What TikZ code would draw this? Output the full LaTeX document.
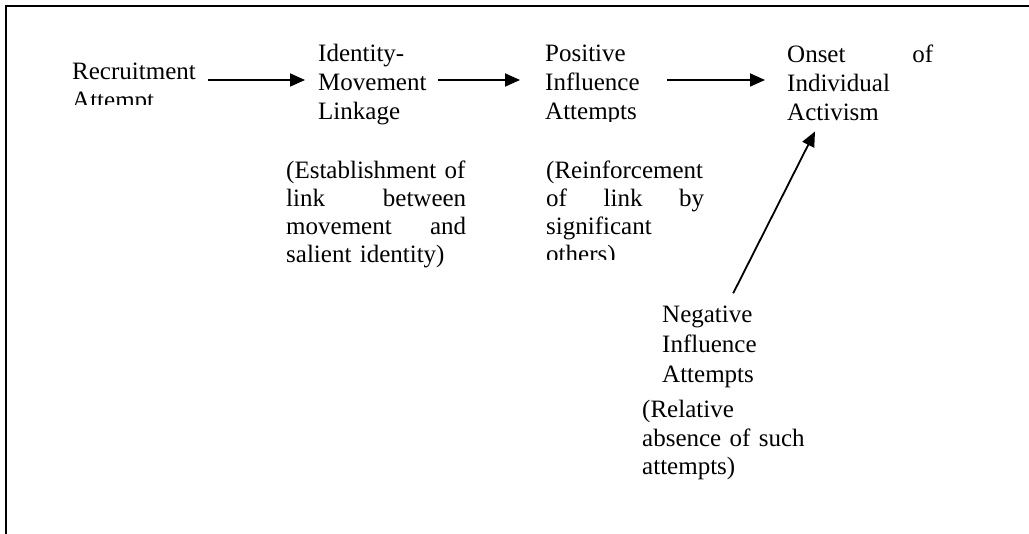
\documentclass[tikz,border=0pt]{standalone}
\usepackage{fontspec}
\setmainfont{Liberation Serif}
\usetikzlibrary{arrows.meta,calc}

\begin{document}
\begin{tikzpicture}[x=1pt,y=-1pt,
  lbl/.style={anchor=base west,inner sep=0pt,align=left,font=\fontsize{25}{29}\selectfont},
  flow/.style={line width=1.8pt,-{Triangle[length=15pt,width=13pt]}}]
  \useasboundingbox (0,0) rectangle (1029,534);
  \draw[line width=2.2pt] (6,534) -- (6,6) -- (1029,6);
  % top row (two boxes are cut off at the bottom)
  \begin{scope}
    \clip (60,40) rectangle (205,105);
    \node[lbl,text width=128pt] (rec) at (72,80) {Recruitment\\Attempt};
  \end{scope}
  \node[lbl,text width=120pt] (idm) at (318,62) {Identity-\\Movement\\Linkage};
  \begin{scope}
    \clip (535,40) rectangle (660,122);
    \node[lbl,text width=110pt] (pos) at (545,62) {Positive\\Influence\\Attempts};
  \end{scope}
  \node[lbl,text width=146pt] (ons) at (787,63) {Onset\hfill of\\Individual\\Activism};
  % notes under the boxes
  \node[lbl,text width=180pt,font=\fontsize{25}{28}\selectfont] (est) at (286,179)
    {(Establishment of\\link\hfill between\\movement\hfill and\\salient identity)};
  \begin{scope}
    \clip (536,150) rectangle (720,260);
    \node[lbl,text width=158pt,font=\fontsize{25}{28}\selectfont] (rei) at (546,179)
      {(Reinforcement\\of\hfill link\hfill by\\significant\\others)};
  \end{scope}
  \node[lbl,text width=142pt,font=\fontsize{25}{30}\selectfont] (neg) at (662,323)
    {Negative\\Influence\\Attempts};
  \node[lbl,text width=170pt,font=\fontsize{25}{28.5}\selectfont] (rel) at (642,418)
    {(Relative\\absence of such\\attempts)};
  % arrows
  \draw[flow] ($(rec.base east)+(8,0)$) -- ($(idm.west |- rec.base)+(-13,0)$);
  \draw[flow] (idm.east |- rec.base) -- ($(pos.west |- rec.base)+(-25,0)$);
  \draw[flow] ($(pos.east |- rec.base)+(12,0)$) -- ($(ons.west |- rec.base)+(-22,0)$);
  \draw[flow] ($(neg.north)+(0,-13)$) -- ($(ons.south west)+(28,10)$);
\end{tikzpicture}
\end{document}
